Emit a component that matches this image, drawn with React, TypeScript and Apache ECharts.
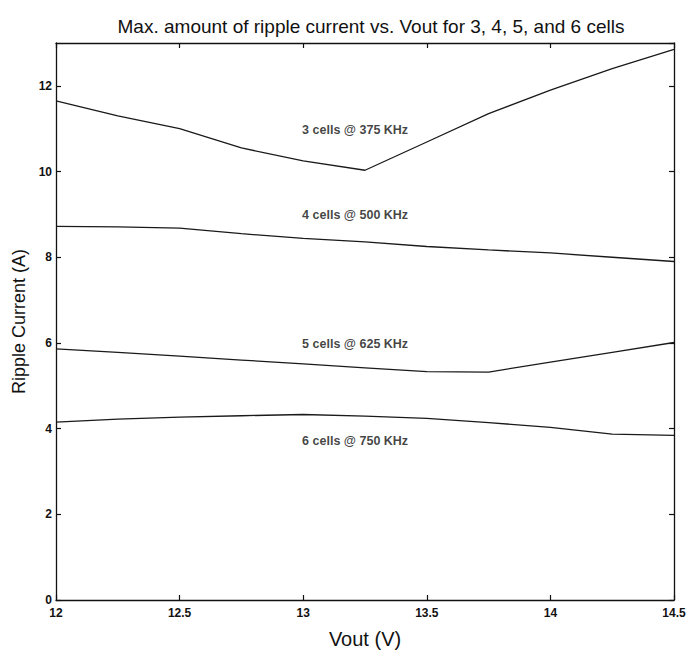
import React, { useEffect, useRef } from "react";
import * as echarts from "echarts";

const vout = [12, 12.25, 12.5, 12.75, 13, 13.25, 13.5, 13.75, 14, 14.25, 14.5];
const cells3 = [11.65, 11.3, 11.0, 10.55, 10.25, 10.03, 10.69, 11.35, 11.9, 12.4, 12.85];
const cells4 = [8.72, 8.71, 8.68, 8.55, 8.44, 8.36, 8.25, 8.17, 8.1, 8.0, 7.9];
const cells5 = [5.86, 5.78, 5.69, 5.6, 5.51, 5.42, 5.33, 5.32, 5.55, 5.78, 6.01];
const cells6 = [4.15, 4.22, 4.27, 4.3, 4.33, 4.29, 4.24, 4.14, 4.03, 3.87, 3.84];
const curveLabels = ["3 cells @ 375 KHz", "4 cells @ 500 KHz", "5 cells @ 625 KHz", "6 cells @ 750 KHz"];
const labelX = [13.21, 13.21, 13.21, 13.21];
const labelY = [10.98, 8.98, 5.97, 3.7];

const NARROW = "'Liberation Sans Narrow', 'Arial Narrow', 'Liberation Sans', Arial, sans-serif";
const SANS = "'Liberation Sans', Arial, sans-serif";

export default function App() {
  const ref = useRef<HTMLDivElement>(null);
  useEffect(() => {
    if (!ref.current) return;
    const chart = echarts.init(ref.current, undefined, { renderer: "svg" });
    const lineStyle = { color: "#1a1a1a", width: 1.3 };
    const mkLine = (name: string, vals: number[]) => ({
      name,
      type: "line",
      data: vout.map((x, i) => [x, vals[i]]),
      showSymbol: false,
      symbol: "none",
      lineStyle,
      xAxisIndex: 0,
      yAxisIndex: 0,
    });
    const axisLine = { show: true, onZero: false, lineStyle: { color: "#111", width: 1.3 } };
    const axisTick = { show: true, inside: true, length: 5, lineStyle: { color: "#111", width: 1.2 } };
    chart.setOption({
      animation: false,
      backgroundColor: "#ffffff",
      title: {
        text: "Max. amount of ripple current vs. Vout for 3, 4, 5, and 6 cells",
        left: 366,
        textAlign: "center",
        top: 12,
        textStyle: { fontFamily: NARROW, fontSize: 19, fontWeight: "normal", color: "#111" },
      },
      grid: { left: 56, right: 17, top: 43, bottom: 49, containLabel: false },
      xAxis: [
        {
          type: "value",
          min: 12,
          max: 14.5,
          interval: 0.5,
          position: "bottom",
          name: "Vout (V)",
          nameLocation: "middle",
          nameGap: 29,
          nameTextStyle: { fontFamily: NARROW, fontSize: 20, color: "#111" },
          axisLine,
          axisTick,
          splitLine: { show: false },
          axisLabel: { fontFamily: SANS, fontWeight: "bold", fontSize: 12, color: "#111", margin: 7 },
        },
        {
          type: "value",
          min: 12,
          max: 14.5,
          interval: 0.5,
          position: "top",
          axisLine,
          axisTick,
          splitLine: { show: false },
          axisLabel: { show: false },
        },
      ],
      yAxis: [
        {
          type: "value",
          min: 0,
          max: 13,
          interval: 2,
          position: "left",
          name: "Ripple Current (A)",
          nameLocation: "middle",
          nameGap: 24,
          nameTextStyle: { fontFamily: SANS, fontSize: 18, color: "#111" },
          axisLine,
          axisTick,
          splitLine: { show: false },
          axisLabel: {
            fontFamily: SANS,
            fontWeight: "bold",
            fontSize: 12,
            color: "#111",
            margin: 4,
            showMaxLabel: false,
          },
        },
        {
          type: "value",
          min: 0,
          max: 13,
          interval: 2,
          position: "right",
          axisLine,
          axisTick,
          splitLine: { show: false },
          axisLabel: { show: false },
        },
      ],
      series: [
        mkLine("3 cells", cells3),
        mkLine("4 cells", cells4),
        mkLine("5 cells", cells5),
        mkLine("6 cells", cells6),
        {
          name: "labels",
          type: "scatter",
          symbolSize: 0,
          silent: true,
          data: curveLabels.map((t, i) => ({ value: [labelX[i], labelY[i]], name: t })),
          label: {
            show: true,
            position: "inside",
            formatter: (p: any) => p.name,
            fontFamily: SANS,
            fontWeight: "bold",
            fontSize: 12.5,
            color: "#111",
          },
        },
      ],
    });
    return () => chart.dispose();
  }, []);
  return (
    <div
      ref={ref}
      style={{ position: "fixed", left: 0, top: 0, width: 691, height: 654, background: "#fff" }}
    />
  );
}
